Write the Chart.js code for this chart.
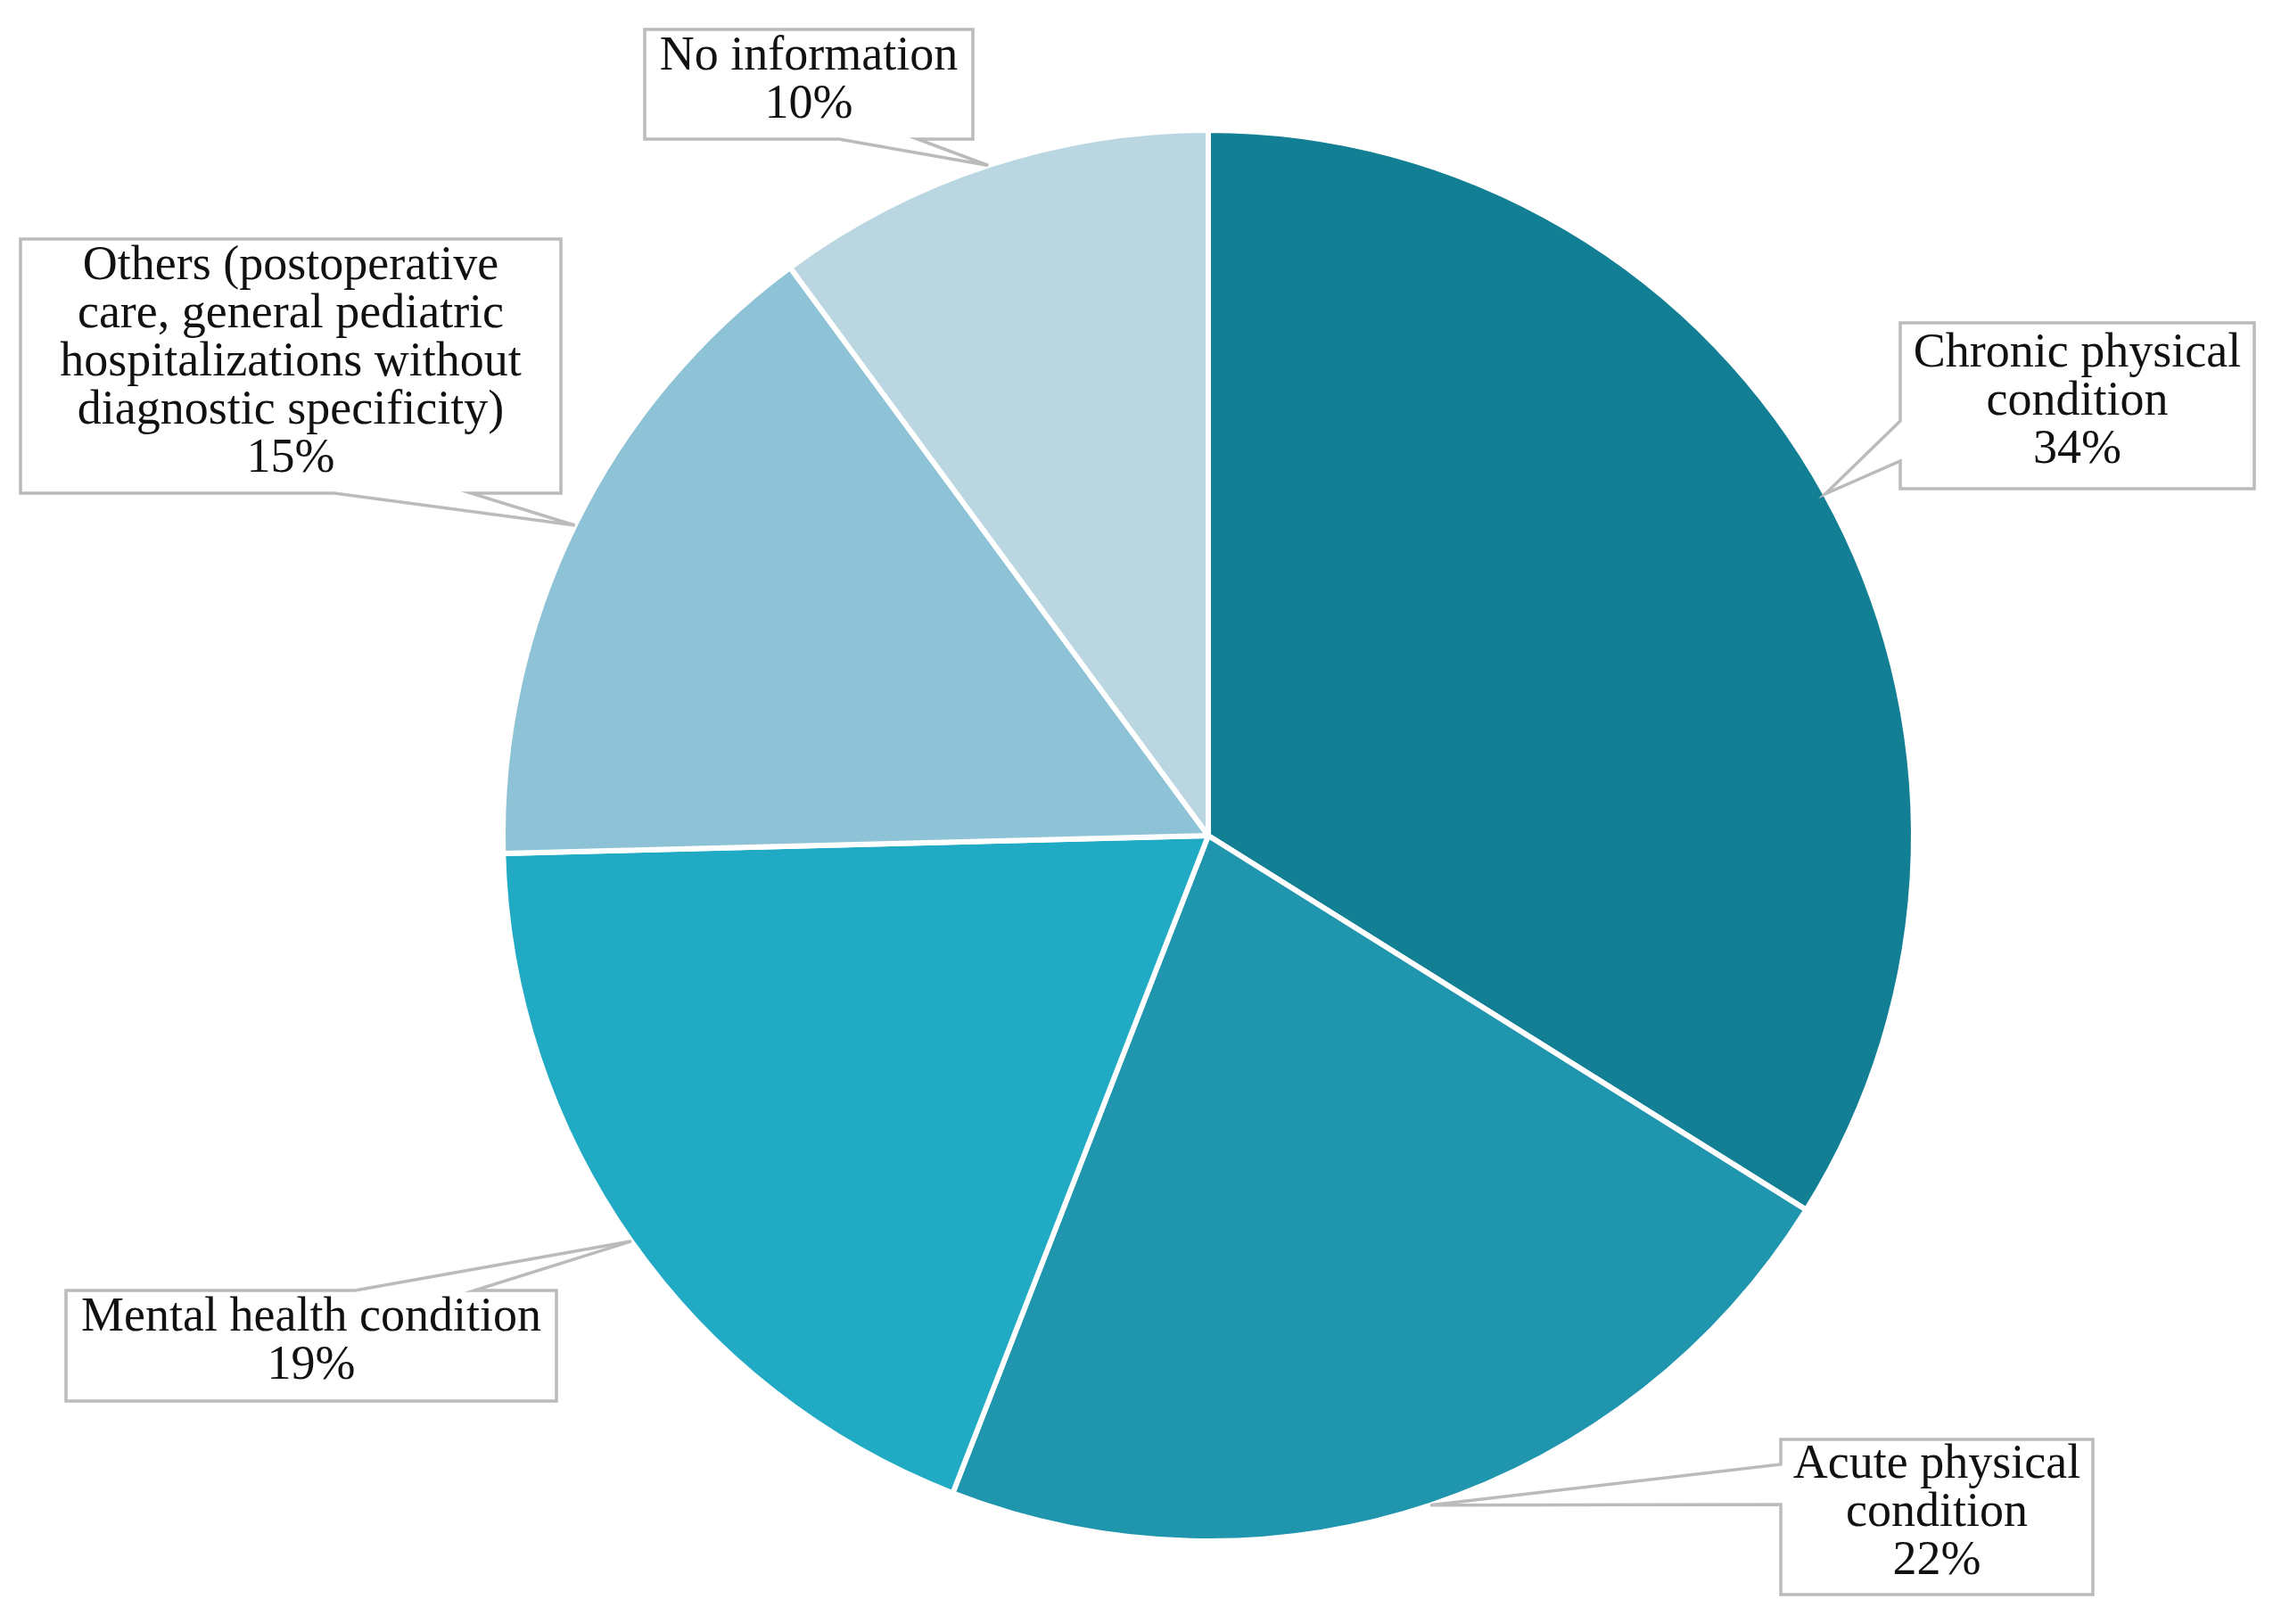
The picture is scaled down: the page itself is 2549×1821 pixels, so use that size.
<!DOCTYPE html>
<html>
<head>
<meta charset="utf-8">
<script src="https://cdn.jsdelivr.net/npm/chart.js@4.4.1/dist/chart.umd.min.js"></script>
<style>
  html, body { margin: 0; padding: 0; background: #ffffff; }
  #wrap { width: 2549px; height: 1821px; position: relative; }
  canvas { display: block; }
</style>
</head>
<body>
<div id="wrap"><canvas id="c" width="2549" height="1821"></canvas></div>
<script>
// ---- data ----
const categories = [
  ["Chronic physical", "condition"],
  ["Acute physical", "condition"],
  ["Mental health condition"],
  ["Others (postoperative", "care, general pediatric", "hospitalizations without", "diagnostic specificity)"],
  ["No information"]
];
const shares = [33.9, 22.0, 18.7, 15.3, 10.1];
const sliceColors = ["#127F94", "#2095AE", "#20AAC4", "#8EC2D6", "#B9D6E1"];

// ---- callout layout (box rectangles in canvas px, wedge edge & attach points) ----
const calloutBoxes = [
  { x0: 2131, y0: 362,  x1: 2528, y1: 548,  edge: "left",   a: 472, b: 517 },
  { x0: 1997, y0: 1614, x1: 2347, y1: 1788, edge: "left",   a: 1642, b: 1687 },
  { x0: 74,   y0: 1447, x1: 624,  y1: 1571, edge: "top",    a: 398, b: 532 },
  { x0: 23,   y0: 268,  x1: 629,  y1: 553,  edge: "bottom", a: 375, b: 528 },
  { x0: 723,  y0: 33,   x1: 1091, y1: 156,  edge: "bottom", a: 941, b: 1029 }
];
const labelFont = "54px 'Liberation Serif', 'Times New Roman', serif";
const lineHeight = 54;

const calloutPlugin = {
  id: "callouts",
  afterDatasetsDraw(chart) {
    const ctx = chart.ctx;
    const meta = chart.getDatasetMeta(0);
    meta.data.forEach((arc, i) => {
      const p = arc.getProps(["x", "y", "startAngle", "endAngle", "outerRadius"], true);
      const mid = (p.startAngle + p.endAngle) / 2;
      const tx = p.x + Math.cos(mid) * p.outerRadius;
      const ty = p.y + Math.sin(mid) * p.outerRadius;
      const bx = calloutBoxes[i];
      ctx.save();
      ctx.beginPath();
      if (bx.edge === "left") {
        ctx.moveTo(bx.x0, bx.y0);
        ctx.lineTo(bx.x1, bx.y0);
        ctx.lineTo(bx.x1, bx.y1);
        ctx.lineTo(bx.x0, bx.y1);
        ctx.lineTo(bx.x0, bx.b);
        ctx.lineTo(tx, ty);
        ctx.lineTo(bx.x0, bx.a);
        ctx.closePath();
      } else if (bx.edge === "bottom") {
        ctx.moveTo(bx.x0, bx.y0);
        ctx.lineTo(bx.x1, bx.y0);
        ctx.lineTo(bx.x1, bx.y1);
        ctx.lineTo(bx.b, bx.y1);
        ctx.lineTo(tx, ty);
        ctx.lineTo(bx.a, bx.y1);
        ctx.lineTo(bx.x0, bx.y1);
        ctx.closePath();
      } else {
        ctx.moveTo(bx.x0, bx.y0);
        ctx.lineTo(bx.a, bx.y0);
        ctx.lineTo(tx, ty);
        ctx.lineTo(bx.b, bx.y0);
        ctx.lineTo(bx.x1, bx.y0);
        ctx.lineTo(bx.x1, bx.y1);
        ctx.lineTo(bx.x0, bx.y1);
        ctx.closePath();
      }
      ctx.fillStyle = "#ffffff";
      ctx.fill();
      ctx.lineWidth = 3.5;
      ctx.lineJoin = "miter";
      ctx.strokeStyle = "#BBBBBB";
      ctx.stroke();

      const lines = chart.data.labels[i].concat([Math.round(chart.data.datasets[0].data[i]) + "%"]);
      ctx.font = labelFont;
      ctx.fillStyle = "#111111";
      ctx.textAlign = "center";
      ctx.textBaseline = "middle";
      const cx = (bx.x0 + bx.x1) / 2;
      const cy = (bx.y0 + bx.y1) / 2;
      const startY = cy - (lines.length - 1) * lineHeight / 2;
      lines.forEach((ln, k) => ctx.fillText(ln, cx, startY + k * lineHeight - 4));
      ctx.restore();
    });
  }
};

new Chart(document.getElementById("c"), {
  type: "pie",
  data: {
    labels: categories,
    datasets: [{
      data: shares,
      backgroundColor: sliceColors,
      borderColor: "#ffffff",
      borderWidth: 6
    }]
  },
  options: {
    responsive: false,
    maintainAspectRatio: false,
    devicePixelRatio: 1,
    animation: false,
    layout: { padding: { left: 561, right: 400, top: 143, bottom: 90 } },
    plugins: {
      legend: { display: false },
      tooltip: { enabled: false },
      title: { display: false }
    }
  },
  plugins: [calloutPlugin]
});
</script>
</body>
</html>
